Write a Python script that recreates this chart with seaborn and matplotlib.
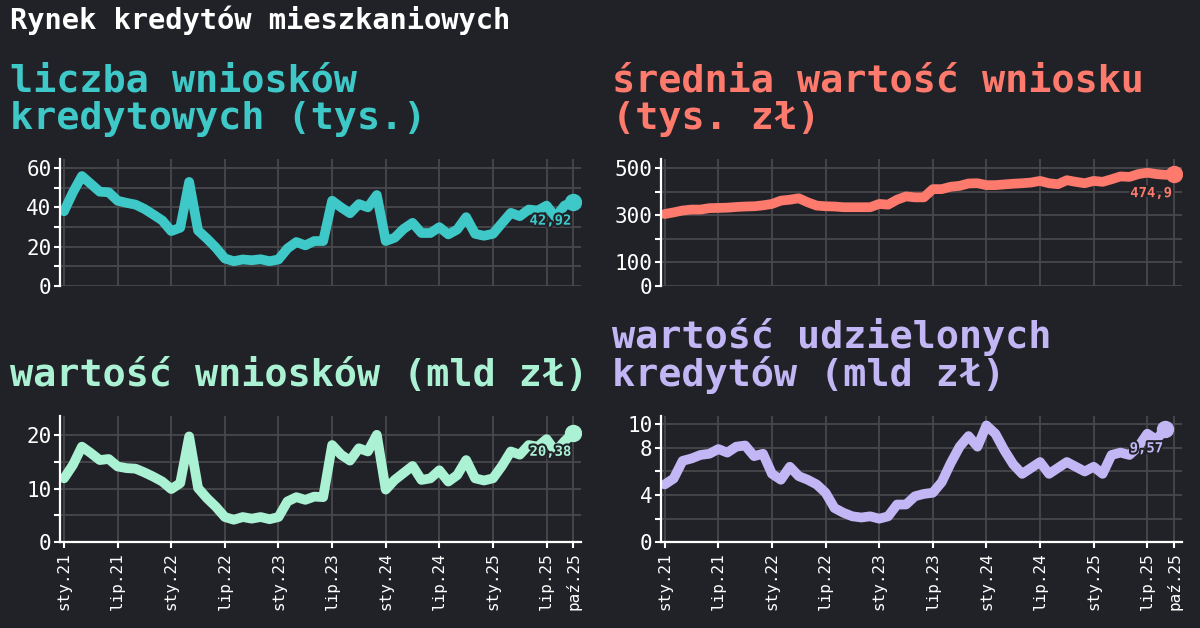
import pandas as pd
import matplotlib.pyplot as plt
import matplotlib.patheffects as pe
import seaborn as sns

# dane miesięczne: sty.21 - paź.25
miesiace = list(pd.date_range("2021-01-01", "2025-10-01", freq="MS"))

liczba_wnioskow = [38, 47.7, 56, 52, 48, 47.7, 43.4, 42.3, 41.4, 39.2, 36.3, 33.3,
                   27.9, 29.6, 53, 28.2, 24, 19.4, 13.9, 12.5, 13.4, 13, 13.5, 12.5,
                   13.4, 19, 22.3, 20.6, 22.8, 22.8, 43.4, 40, 37, 41.7, 40, 46.3,
                   22.8, 24.5, 29, 32.1, 26.9, 26.9, 29.9, 26.2, 28.7, 35, 26.5, 25.5,
                   26.5, 31.9, 37.2, 35.5, 38.9, 38.4, 40.9, 35, 40.9, 42.92]

srednia_wartosc = [305, 312, 320, 324, 324, 330, 331, 332, 335, 337, 338, 342,
                   348, 362, 366, 372, 355, 341, 338, 337, 334, 334, 334, 334,
                   348, 345, 366, 380, 376, 376, 411, 411, 421, 425, 435, 436,
                   428, 428, 431, 434, 436, 439, 446, 436, 432, 449, 442, 436,
                   446, 442, 453, 465, 463, 475, 481, 475, 472, 474.9]

wartosc_wnioskow = [11.9, 14.4, 17.8, 16.6, 15.3, 15.5, 14.1, 13.8, 13.7, 13.0, 12.2, 11.3,
                    9.9, 11.0, 19.7, 10.1, 8.2, 6.6, 4.7, 4.2, 4.7, 4.4, 4.7, 4.3,
                    4.7, 7.6, 8.4, 7.9, 8.5, 8.4, 18.1, 16.3, 15.2, 17.5, 16.9, 20.0,
                    9.8, 11.6, 12.9, 14.2, 11.6, 11.9, 13.4, 11.3, 12.5, 15.3, 11.9, 11.5,
                    11.9, 14.2, 16.9, 16.3, 18.1, 17.8, 19.2, 16.9, 18.8, 20.38]

wartosc_udzielonych = [4.9, 5.4, 6.9, 7.1, 7.4, 7.5, 7.9, 7.6, 8.1, 8.2, 7.3, 7.5,
                       5.8, 5.3, 6.4, 5.6, 5.3, 4.9, 4.2, 2.9, 2.5, 2.2, 2.1, 2.2,
                       2.0, 2.2, 3.2, 3.2, 3.9, 4.1, 4.2, 5.1, 6.7, 8.1, 9.0, 8.1,
                       9.9, 9.2, 7.8, 6.6, 5.8, 6.3, 6.8, 5.8, 6.3, 6.8, 6.4, 6.0,
                       6.4, 5.8, 7.4, 7.6, 7.4, 8.1, 9.2, 8.7, 9.57]

x_ticks_daty = ["2021-01", "2021-07", "2022-01", "2022-07", "2023-01", "2023-07",
                "2024-01", "2024-07", "2025-01", "2025-07", "2025-10"]
x_tick_labels = ["sty.21", "lip.21", "sty.22", "lip.22", "sty.23", "lip.23",
                 "sty.24", "lip.24", "sty.25", "lip.25", "paź.25"]

tl_ticks = [0, 10, 20, 30, 40, 50, 60]
tl_labels = ["0", "", "20", "", "40", "", "60"]
tr_ticks = [0, 100, 200, 300, 400, 500]
tr_labels = ["0", "100", "", "300", "", "500"]
bl_ticks = [0, 5, 10, 15, 20]
bl_labels = ["0", "", "10", "", "20"]
br_ticks = [0, 2, 4, 6, 8, 10]
br_labels = ["0", "", "4", "", "8", "10"]

BG = "#212228"
GRID = "#48484c"
TEAL = "#3ec8c7"
SALMON = "#fd7a6d"
MINT = "#aaf2d3"
LAVENDER = "#c2b6f4"

sns.set_style("dark", {"axes.facecolor": BG, "figure.facecolor": BG})
plt.rcParams["font.family"] = ["DejaVu Sans Mono", "DejaVu Sans"]

fig = plt.figure(figsize=(12, 6.28), dpi=100)

W = 521 / 1200
H = 126.3 / 628
axes_pos = {
    "tl": [60 / 1200, (628 - 285.7) / 628, W, H],
    "tr": [660.7 / 1200, (628 - 285.7) / 628, W, H],
    "bl": [60 / 1200, (628 - 542.3) / 628, W, H],
    "br": [660.7 / 1200, (628 - 542.3) / 628, W, H],
}

x_tick_pos = [miesiace.index(pd.Timestamp(d + "-01")) for d in x_ticks_daty]


def panel(key, values, color, ymax, yticks, ylabels, bottom_axis):
    ax = fig.add_axes(axes_pos[key])
    df = pd.DataFrame({"x": range(len(values)), "y": values})
    sns.lineplot(data=df, x="x", y="y", ax=ax, color=color, lw=7,
                 solid_capstyle="round", solid_joinstyle="round")
    last = df.iloc[-1]
    ax.plot(last["x"], last["y"], "o", color=color, ms=11.5, zorder=5)
    txt = f"{values[-1]}".replace(".", ",")
    ax.annotate(txt, (last["x"], last["y"]), xytext=(-2, -12),
                textcoords="offset pixels", ha="right", va="top",
                color=color, fontsize=10, fontweight="bold", zorder=6,
                path_effects=[pe.withStroke(linewidth=3, foreground=BG)])

    ax.set_xlim(-0.45, 57.85)
    ax.set_ylim(0, ymax)
    ax.set_yticks(yticks)
    ax.set_yticklabels(ylabels)
    ax.set_xticks(x_tick_pos)
    ax.grid(True, color=GRID, lw=1.3)
    ax.set_xlabel("")
    ax.set_ylabel("")
    for s in ["top", "right"]:
        ax.spines[s].set_visible(False)
    ax.spines["left"].set_color("white")
    ax.spines["left"].set_linewidth(1.6)
    ax.tick_params(axis="y", colors="white", labelsize=15, length=4, width=1.5,
                   direction="out", pad=2, left=True)
    if bottom_axis:
        ax.spines["bottom"].set_color("white")
        ax.spines["bottom"].set_linewidth(1.6)
        ax.set_xticklabels(x_tick_labels, rotation=90)
        ax.tick_params(axis="x", colors="white", labelsize=11.5, length=4,
                       width=1.5, direction="out", pad=3, bottom=True)
    else:
        ax.spines["bottom"].set_visible(False)
        ax.set_xticklabels([])
        ax.tick_params(axis="x", length=0)
    return ax


panel("tl", liczba_wnioskow, TEAL, 64.5, tl_ticks, tl_labels, False)
panel("tr", srednia_wartosc, SALMON, 537.5, tr_ticks, tr_labels, False)
panel("bl", wartosc_wnioskow, MINT, 23.5, bl_ticks, bl_labels, True)
panel("br", wartosc_udzielonych, LAVENDER, 10.7, br_ticks, br_labels, True)


def fig_text(x_px, y_px, s, color, size):
    fig.text(x_px / 1200, 1 - y_px / 628, s, color=color, fontsize=size,
             fontweight="bold", ha="left", va="baseline")


fig_text(10, 29, "Rynek kredytów mieszkaniowych", "white", 20.7)
fig_text(10, 92, "liczba wniosków", TEAL, 27.7)
fig_text(10, 129, "kredytowych (tys.)", TEAL, 27.7)
fig_text(612, 92, "średnia wartość wniosku", SALMON, 27.7)
fig_text(612, 129, "(tys. zł)", SALMON, 27.7)
fig_text(10, 386, "wartość wniosków (mld zł)", MINT, 27.7)
fig_text(612, 348, "wartość udzielonych", LAVENDER, 27.7)
fig_text(612, 386, "kredytów (mld zł)", LAVENDER, 27.7)

plt.savefig("out.png", dpi=100, facecolor=BG)
